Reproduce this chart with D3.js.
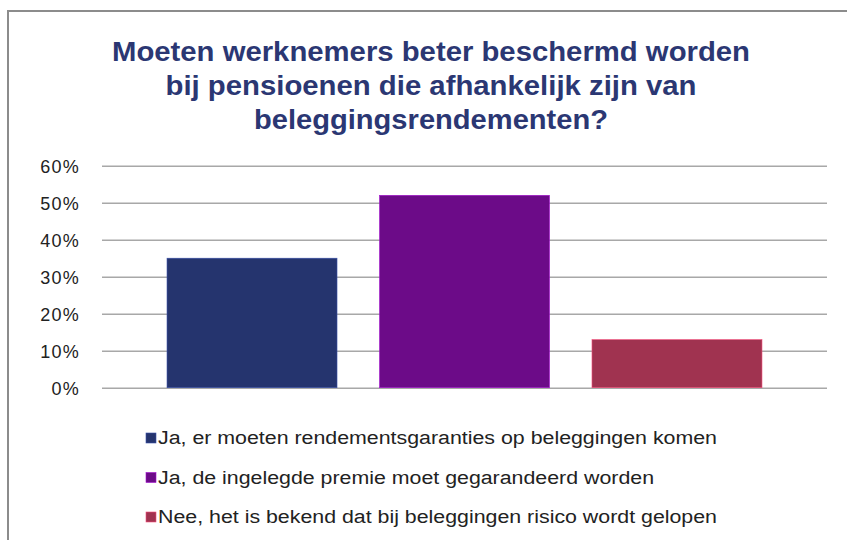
<!DOCTYPE html>
<html lang="nl">
<head>
<meta charset="utf-8" />
<title>Pensioenen en beleggingsrendementen</title>
<style>
   body { margin:0; padding:0; background:#fff; }
   text { font-family:"Liberation Sans", Arial, sans-serif; }
   .title { font-weight:bold; fill:#2b3773; font-size:28px; text-anchor:middle; }
   .tick text { fill:#222; font-size:18px; letter-spacing:1.2px; }
   .legend text { fill:#222; font-size:18px; }
</style>
<script src="https://d3js.org/d3.v7.min.js"></script>
</head>
<body>
<svg id="main" width="847" height="540"></svg>
<script>
// data
var categories = [
   "Ja, er moeten rendementsgaranties op beleggingen komen",
   "Ja, de ingelegde premie moet gegarandeerd worden",
   "Nee, het is bekend dat bij beleggingen risico wordt gelopen"
];
var values = [0.35, 0.52, 0.13];
var colors = ["#25346e", "#6c0b88", "#a03350"];
var yTicks = [0, 0.1, 0.2, 0.3, 0.4, 0.5, 0.6];
var titleLines = [
   "Moeten werknemers beter beschermd worden",
   "bij pensioenen die afhankelijk zijn van",
   "beleggingsrendementen?"
];
// rendered widths in the original (its font runs wider than ours)
var titleWidths = [638, 531, 354];
var legendWidths = [559, 496, 559];

var svg = d3.select('#main');

// chart frame (right and bottom run off the picture)
svg.append('rect')
   .attr('x', 8).attr('y', 11)
   .attr('width', 860).attr('height', 560)
   .attr('fill', 'none')
   .attr('stroke', '#8c8c8c')
   .attr('stroke-width', 2);

// title
svg.append('text')
   .attr('class', 'title')
   .selectAll('tspan')
   .data(titleLines)
   .enter()
   .append('tspan')
   .attr('x', 431)
   .attr('y', function(d, i) { return 61 + i*34; })
   .attr('textLength', function(d, i) { return titleWidths[i]; })
   .attr('lengthAdjust', 'spacingAndGlyphs')
   .text(function(d) { return d; });

var plotLeft = 102, plotRight = 827;
var y = d3.scaleLinear().domain([0, 0.6]).range([387.7, 165.7]);
var x = d3.scaleBand()
   .domain(categories)
   .range([plotLeft, plotRight])
   .paddingInner(0.2)
   .paddingOuter(0.306);

// gridlines + tick labels
var yAxis = d3.axisLeft(y)
   .tickValues(yTicks)
   .tickFormat(d3.format('.0%'))
   .tickSize(-(plotRight - plotLeft))
   .tickPadding(22);
var gy = svg.append('g')
   .attr('transform', 'translate(' + plotLeft + ',0)')
   .call(yAxis);
gy.select('.domain').remove();
gy.selectAll('.tick line')
   .attr('stroke', '#a8a8a8')
   .attr('stroke-width', 1.5);
gy.selectAll('.tick text').attr('dy', '0.35em');

// bars
svg.append('g')
   .selectAll('rect')
   .data(values)
   .enter()
   .append('rect')
   .attr('x', function(d, i) { return x(categories[i]); })
   .attr('y', function(d) { return y(d); })
   .attr('width', x.bandwidth())
   .attr('height', function(d) { return y(0) - y(d); })
   .attr('fill', function(d, i) { return colors[i]; })
   .attr('stroke', function(d, i) { return d3.color(colors[i]).brighter(1.2); })
   .attr('stroke-width', 0.6);

// legend
var legend = svg.append('g')
   .attr('class', 'legend')
   .selectAll('g')
   .data(categories)
   .enter()
   .append('g')
   .attr('transform', function(d, i) { return 'translate(146,' + (438 + i*39.5) + ')'; });
legend.append('rect')
   .attr('x', 0).attr('y', -5)
   .attr('width', 10).attr('height', 10)
   .attr('fill', function(d, i) { return colors[i]; })
   .attr('stroke', function(d, i) { return d3.color(colors[i]).brighter(1.2); })
   .attr('stroke-width', 0.6);
legend.append('text')
   .attr('x', 12)
   .attr('dy', '0.35em')
   .attr('textLength', function(d, i) { return legendWidths[i]; })
   .attr('lengthAdjust', 'spacingAndGlyphs')
   .text(function(d) { return d; });
</script>
</body>
</html>
